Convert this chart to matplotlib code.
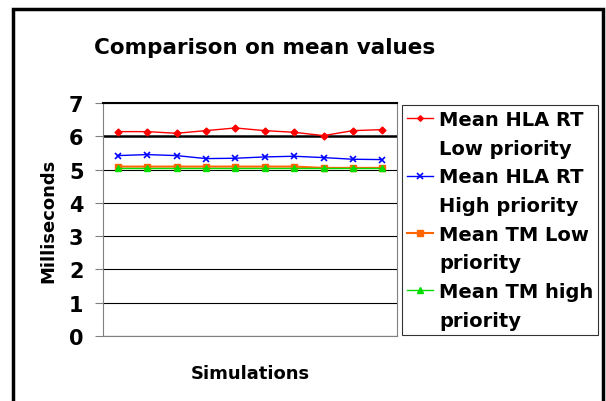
import numpy as np
import matplotlib.pyplot as plt
from matplotlib.lines import Line2D
from matplotlib.patches import Rectangle

# values (10 simulation runs)
runs = np.arange(1, 11)
hla_low = [6.14, 6.14, 6.09, 6.17, 6.25, 6.17, 6.12, 6.02, 6.17, 6.20]
hla_high = [5.42, 5.45, 5.42, 5.33, 5.34, 5.38, 5.40, 5.36, 5.31, 5.30]
tm_low = [5.09, 5.09, 5.09, 5.09, 5.09, 5.09, 5.09, 5.05, 5.05, 5.05]
tm_high = [5.04, 5.04, 5.04, 5.04, 5.04, 5.04, 5.04, 5.04, 5.04, 5.04]

labels = ['Mean HLA RT\nLow priority', 'Mean HLA RT\nHigh priority',
          'Mean TM Low\npriority', 'Mean TM high\npriority']

plt.rcParams['font.family'] = 'DejaVu Sans'
plt.rcParams['font.weight'] = 'bold'

fig = plt.figure(figsize=(6.06, 4.02), dpi=100)
ax = fig.add_axes([103 / 606, 1 - 337 / 402, 294 / 606, 233 / 402])

# outer chart frame
fig.patches.append(Rectangle((13 / 606, -0.05), 590 / 606, 1 - 10 / 402 + 0.05,
                             transform=fig.transFigure, fill=False,
                             edgecolor='black', linewidth=2.5))

l1, = ax.plot(runs, hla_low, color='red', marker='D', markersize=3.5, linewidth=1)
l2, = ax.plot(runs, hla_high, color='blue', marker='x', markersize=5,
              markeredgewidth=1.2, linewidth=1)
l3, = ax.plot(runs, tm_low, color='#ff6600', marker='s', markersize=5, linewidth=1.5)
l4, = ax.plot(runs, tm_high, color='#00dd00', marker='^', markersize=5, linewidth=1)

ax.set_xlim(0.5, 10.5)
ax.set_ylim(0, 7)
ax.set_yticks(range(0, 8))
ax.set_xticks([])
ax.tick_params(axis='y', labelsize=15, length=6, pad=8, color='#808080')
for t in ax.get_yticklabels():
    t.set_fontweight('bold')

ax.grid(axis='y', color='black', linewidth=0.8)
ax.get_ygridlines()[6].set_linewidth(1.8)
ax.set_axisbelow(True)
for s in ['left', 'right', 'bottom']:
    ax.spines[s].set_color('#808080')
ax.spines['top'].set_color('black')
ax.spines['top'].set_linewidth(1.5)

ax.set_ylabel('Milliseconds', fontsize=13, fontweight='bold', labelpad=8)
ax.set_xlabel('Simulations', fontsize=13, fontweight='bold', labelpad=20)
fig.text(265 / 606, 1 - 48 / 402, 'Comparison on mean values', fontsize=15.5,
         fontweight='bold', ha='center', va='center')

# legend: handle next to the first line of each label, second line on its own row
blank = Line2D([], [], linestyle='none', marker=None)
handles, texts = [], []
for h, lab in zip([l1, l2, l3, l4], labels):
    first, second = lab.split('\n')
    handles += [h, blank]
    texts += [first, second]

leg = fig.legend(handles, texts, loc='upper left',
                 bbox_to_anchor=(402 / 606, 1 - 106 / 402), fontsize=14,
                 frameon=True, fancybox=False, handlelength=1.35,
                 handletextpad=0.3, labelspacing=0.5, borderpad=0.25,
                 borderaxespad=0, markerscale=0.8)
leg.get_frame().set_edgecolor('black')
leg.get_frame().set_linewidth(0.8)

fig.savefig('out.png', dpi=100)
